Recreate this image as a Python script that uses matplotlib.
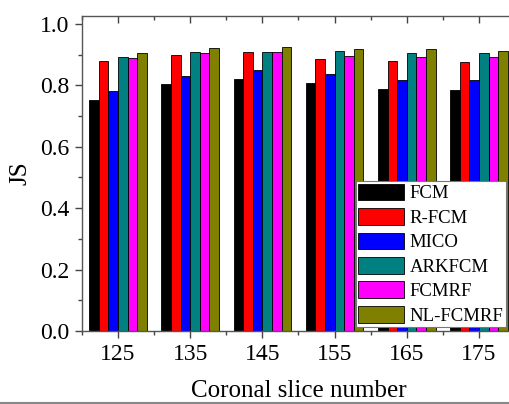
import numpy as np
import matplotlib
matplotlib.use("Agg")
import matplotlib.pyplot as plt
from matplotlib.ticker import MultipleLocator
from matplotlib.lines import Line2D

plt.rcParams['font.family'] = ['Liberation Serif', 'DejaVu Serif']
plt.rcParams['mathtext.fontset'] = 'stix'

slices = ['125', '135', '145', '155', '165', '175']
methods = ['FCM', 'R-FCM', 'MICO', 'ARKFCM', 'FCMRF', 'NL-FCMRF']
colors = ['#000000', '#FF0000', '#0000FF', '#008080', '#FF00FF', '#808000']

fcm      = [0.754, 0.806, 0.820, 0.809, 0.788, 0.785]
r_fcm    = [0.878, 0.898, 0.908, 0.886, 0.880, 0.876]
mico     = [0.783, 0.829, 0.849, 0.838, 0.819, 0.816]
arkfcm   = [0.892, 0.910, 0.910, 0.913, 0.907, 0.907]
fcmrf    = [0.890, 0.907, 0.910, 0.896, 0.893, 0.892]
nl_fcmrf = [0.906, 0.922, 0.925, 0.919, 0.918, 0.912]
series = [fcm, r_fcm, mico, arkfcm, fcmrf, nl_fcmrf]

fig = plt.figure(figsize=(5.10, 4.04), dpi=100)
ax = fig.add_axes([82 / 510, 73 / 404, 433 / 510, 315 / 404])

x = np.arange(len(slices))
n = len(series)
group_w = 0.8
bw = group_w / n
for i, (vals, c, name) in enumerate(zip(series, colors, methods)):
    offs = -group_w / 2 + bw * (i + 0.5)
    ax.bar(x + offs, vals, width=bw, color=c, edgecolor='black',
           linewidth=0.6, label=name, zorder=2)

ax.set_xlim(-0.5, 5.5)
ax.set_ylim(0, 1.026)
ax.set_xticks(x)
ax.set_xticklabels(slices)
ax.xaxis.set_minor_locator(MultipleLocator(0.5))
ax.yaxis.set_major_locator(MultipleLocator(0.2))
ax.yaxis.set_minor_locator(MultipleLocator(0.1))
ax.set_yticklabels([f'{v:.1f}' for v in ax.get_yticks()])

for sp in ax.spines.values():
    sp.set_color('#555555')
    sp.set_linewidth(1.0)

ax.tick_params(axis='both', which='major', labelsize=17, direction='out',
               length=5, width=1.0, color='#444444', pad=4)
ax.tick_params(axis='both', which='minor', direction='out', length=3,
               width=1.0, color='#444444')
ax.tick_params(axis='x', which='both', top=True, labeltop=False)

# inward ticks along the top edge
for t in ax.xaxis.get_major_ticks():
    t.tick2line.set_marker(matplotlib.markers.TICKDOWN)
for t in ax.xaxis.get_minor_ticks():
    t.tick2line.set_marker(matplotlib.markers.TICKDOWN)

ax.set_ylabel('JS', fontsize=18, labelpad=6)
ax.set_xlabel('Coronal slice number', fontsize=18, labelpad=11)

leg = ax.legend(loc='lower left', bbox_to_anchor=(0.633, 0.013),
                borderaxespad=0, fontsize=13.5, handlelength=2.45,
                handleheight=1.0, labelspacing=0.3, handletextpad=0.3,
                borderpad=0.12, fancybox=False, framealpha=1,
                edgecolor='#777777')
leg.get_frame().set_linewidth(0.8)
leg.set_zorder(5)

fig.add_artist(Line2D([0, 1], [1.5 / 404, 1.5 / 404], color='#888888',
                      linewidth=1.5, transform=fig.transFigure))

fig.savefig('out.png', dpi=100)
